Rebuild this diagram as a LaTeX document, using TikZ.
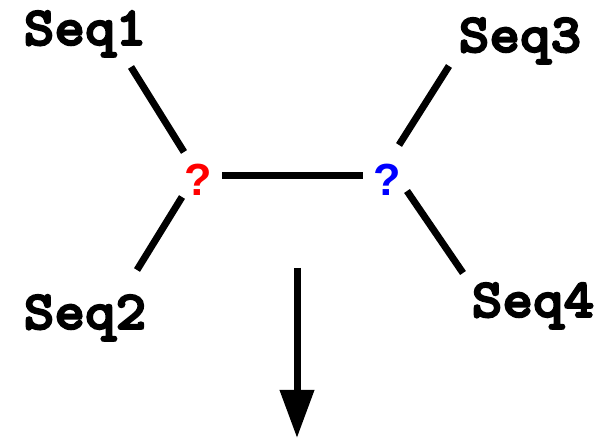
\documentclass[tikz,border=0pt]{standalone}
\usepackage{fontspec}
\newfontfamily\qfont{Liberation Sans}
\newfontfamily\seqfont{lmmonolt10-bold}[Extension=.otf, FakeBold=3.5, FakeStretch=1.06]
\usetikzlibrary{arrows.meta}
\tikzset{
  seqlabel/.style={inner sep=0pt, anchor=base, font=\seqfont\fontsize{55}{55}\selectfont},
  qmark/.style={inner sep=0pt, anchor=base, font=\qfont\bfseries\fontsize{45}{45}\selectfont},
  branch/.style={line width=7pt, line cap=butt},
  result/.style={line width=7pt, -{Triangle[width=33pt,length=48pt]}}
}
\begin{document}
\begin{tikzpicture}[x=1pt,y=1pt]
  \useasboundingbox (0,0) rectangle (598,438);
  % leaf labels
  \node[seqlabel] (s1) at (85,393) {Seq1};
  \node[seqlabel] (s2) at (85,109) {Seq2};
  \node[seqlabel] (s3) at (520,386) {Seq3};
  \node[seqlabel] (s4) at (533,121) {Seq4};
  % unknown ancestral states
  \node[qmark, text=red] (q1) at (198,242) {?};
  \node[qmark, text=blue] (q2) at (387,242) {?};
  % branch ends
  \coordinate (b1a) at (131,371);
  \coordinate (b1b) at (184,286);
  \coordinate (b2a) at (182,241);
  \coordinate (b2b) at (137,168);
  \coordinate (b3a) at (449,372);
  \coordinate (b3b) at (399,293);
  \coordinate (b4a) at (407,247);
  \coordinate (b4b) at (463,165);
  \coordinate (ca) at (222,262);
  \coordinate (cb) at (363,262);
  \draw[branch] (b1a) -- (b1b);
  \draw[branch] (b2a) -- (b2b);
  \draw[branch] (b3a) -- (b3b);
  \draw[branch] (b4a) -- (b4b);
  \draw[branch] (ca) -- (cb);
  % downward arrow
  \coordinate (aa) at (297,170);
  \coordinate (ab) at (297,0);
  \draw[result] (aa) -- (ab);
\end{tikzpicture}
\end{document}
